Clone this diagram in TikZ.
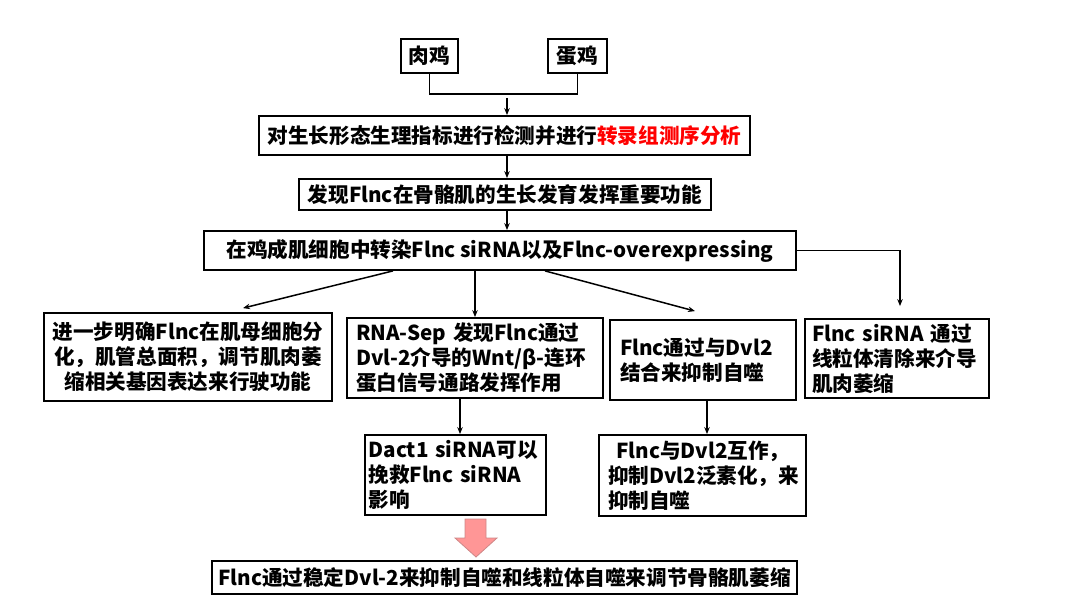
\documentclass[tikz,border=0pt]{standalone}
\usepackage{fontspec}
\setmainfont{Noto Sans CJK SC}
\usetikzlibrary{arrows.meta}
\begin{document}
\begin{tikzpicture}[x=1pt,y=-1pt,
  every node/.style={font=\fontsize{20.6}{25}\selectfont\bfseries},
  box/.style={draw=black, line width=1.8pt, inner sep=0pt, align=center},
  para/.style={box, align=left},
  link/.style={draw=black, line width=1.5pt, -{Stealth[length=7pt,width=5.5pt]}}]
\useasboundingbox (0,0) rectangle (1080,604);
\node[box, minimum width=57pt, minimum height=34pt] (meat) at (429.5,56) {肉鸡};
\node[box, minimum width=59pt, minimum height=34pt] (egg) at (577.5,56) {蛋鸡};
\node[box, minimum width=491pt, minimum height=39pt] (test) at (504.5,135.5) {对生长形态生理指标进行检测并进行\textcolor{red}{转录组测序分析}};
\node[box, minimum width=412pt, minimum height=31pt] (find) at (505,194.5) {发现Flnc在骨骼肌的生长发育发挥重要功能};
\node[box, minimum width=592pt, minimum height=39pt] (trans) at (500,250.5) {在鸡成肌细胞中转染Flnc siRNA以及Flnc-overexpressing};
\node[box, text width=284pt, minimum width=288pt, minimum height=88pt] (diff) at (188,357) {进一步明确Flnc在肌母细胞分\\化，肌管总面积，调节肌肉萎\\缩相关基因表达来行驶功能};
\node[para, text width=238pt, minimum width=256pt, minimum height=80pt] (wnt) at (475,358) {RNA-Sep 发现Flnc通过\\Dvl-2介导的Wnt/β-连环\\蛋白信号通路发挥作用};
\node[para, text width=166pt, minimum width=186pt, minimum height=80pt] (bind) at (703,360) {Flnc通过与Dvl2\\结合来抑制自噬};
\node[para, text width=170pt, minimum width=184pt, minimum height=79pt] (mito) at (897,358.5) {Flnc siRNA 通过\\线粒体清除来介导\\肌肉萎缩};
\node[para, text width=174pt, minimum width=181pt, minimum height=80pt] (dact) at (455.5,475) {Dact1 siRNA可以\\挽救Flnc siRNA\\影响};
\node[para, text width=189pt, minimum width=207pt, minimum height=81pt] (ubiq) at (702.5,475.5) {\hspace{0.4em}Flnc与Dvl2互作，\\抑制Dvl2泛素化，来\\抑制自噬};
\node[box, minimum width=585pt, minimum height=33pt] (final) at (504.5,577.5) {Flnc通过稳定Dvl-2来抑制自噬和线粒体自噬来调节骨骼肌萎缩};
\coordinate (join) at (507,98);
\draw[draw=black, line width=1.7pt] (meat.south) -- ++(0,20) -| (egg.south);
\draw[link] (join) -- (join |- test.north);
\draw[link] (join |- test.south) -- (join |- find.north);
\draw[link] (join |- find.south) -- (join |- trans.north);
\draw[link] ([xshift=-107pt]trans.south) -- ([xshift=55pt,yshift=4pt]diff.north);
\draw[link] (wnt.north |- trans.south) -- (wnt.north);
\draw[link] ([xshift=45pt]trans.south) -- ([xshift=-8pt,yshift=8pt]bind.north);
\draw[link] (trans.east) -| ([xshift=3pt,yshift=12pt]mito.north);
\draw[link] ([xshift=4.5pt]dact.north |- wnt.south) -- ([xshift=4.5pt]dact.north);
\draw[link] ([xshift=4pt]bind.south) -- ([xshift=4pt]bind.south |- ubiq.north);
\draw[fill={rgb,255:red,255;green,150;blue,150}, draw={rgb,255:red,205;green,135;blue,135}, line width=0.8pt]
  (465,519) -- (486,519) -- (486,538) -- (497,538) -- (476,557) -- (455,538) -- (465,538) -- cycle;
\end{tikzpicture}
\end{document}
